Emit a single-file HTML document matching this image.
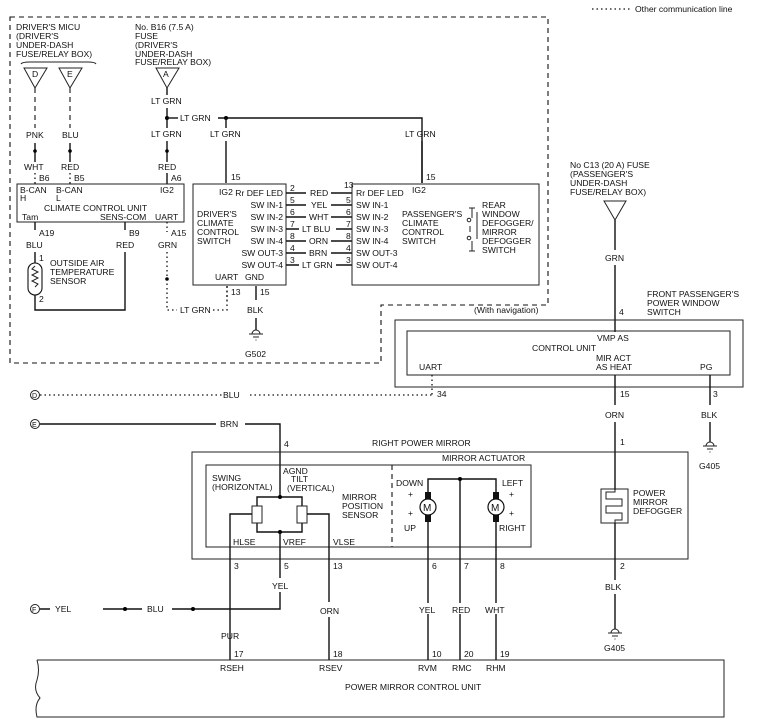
<!DOCTYPE html>
<html><head><meta charset="utf-8"><style>
body{margin:0;background:#fff}
svg{display:block}
text{font-family:"Liberation Sans",sans-serif;font-size:8.6px;fill:#111}
.w{stroke:#111;stroke-width:1.4;fill:none}
.t{stroke:#222;stroke-width:1;fill:none}
.d{stroke:#111;stroke-width:1.1;fill:none;stroke-dasharray:5,4}
.o{stroke:#111;stroke-width:1.3;fill:none;stroke-dasharray:1.5,3}
</style></head><body>
<svg width="759" height="724" viewBox="0 0 759 724" xmlns="http://www.w3.org/2000/svg">
<line x1="592" y1="9" x2="632" y2="9" class="o"/>
<text x="635" y="12">Other communication line</text>
<path d="M10,17 H548 V305 H381 V363 H10 Z" class="d"/>
<text x="16" y="30">DRIVER'S MICU</text><text x="16" y="39">(DRIVER'S</text><text x="16" y="48">UNDER-DASH</text><text x="16" y="57">FUSE/RELAY BOX)</text>
<path d="M21,64 Q22,62 30,62 H88 Q95,62 96,64" class="t"/>
<text x="135" y="30">No. B16 (7.5 A)</text><text x="135" y="39">FUSE</text><text x="135" y="48">(DRIVER'S</text><text x="135" y="57">UNDER-DASH</text><text x="135" y="65">FUSE/RELAY BOX)</text>
<path d="M24,68 H47 L35,88 Z" class="t"/><text x="32" y="77">D</text>
<path d="M59,68 H82 L70,88 Z" class="t"/><text x="67" y="77">E</text>
<path d="M156,68 H179 L167,88 Z" class="t"/><text x="163" y="77">A</text>
<line x1="35" y1="88" x2="35" y2="128" class="d"/><line x1="70" y1="88" x2="70" y2="128" class="d"/>
<text x="26" y="138">PNK</text><text x="62" y="138">BLU</text>
<line x1="35" y1="143" x2="35" y2="162" class="w"/><circle cx="35" cy="151" r="1.8"/>
<line x1="70" y1="143" x2="70" y2="162" class="w"/><circle cx="70" cy="151" r="1.8"/>
<text x="24" y="170">WHT</text><text x="61" y="170">RED</text>
<line x1="35" y1="173" x2="35" y2="184" class="o"/><line x1="70" y1="173" x2="70" y2="184" class="o"/>
<text x="39" y="181">B6</text><text x="74" y="181">B5</text>
<line x1="167" y1="88" x2="167" y2="95" class="w"/>
<text x="151" y="104">LT GRN</text>
<line x1="167" y1="108" x2="167" y2="128" class="w"/><circle cx="167" cy="118" r="2"/>
<line x1="167" y1="118" x2="178" y2="118" class="w"/><text x="180" y="121">LT GRN</text>
<path d="M218,118 H422 V183" class="w"/><circle cx="226" cy="118" r="2"/>
<line x1="226" y1="118" x2="226" y2="128" class="w"/>
<text x="151" y="137">LT GRN</text><text x="210" y="137">LT GRN</text><text x="405" y="137">LT GRN</text>
<line x1="167" y1="141" x2="167" y2="162" class="w"/><circle cx="167" cy="151" r="1.8"/>
<text x="158" y="170">RED</text>
<line x1="167" y1="173" x2="167" y2="184" class="w"/><text x="171" y="181">A6</text>
<line x1="226" y1="141" x2="226" y2="183" class="w"/><text x="231" y="180">15</text>
<line x1="422" y1="141" x2="422" y2="183" class="w"/><text x="426" y="180">15</text>
<rect x="17" y="184" width="167" height="38" class="t"/>
<text x="20" y="193">B-CAN</text><text x="20" y="201">H</text><text x="56" y="193">B-CAN</text><text x="56" y="201">L</text>
<text x="160" y="193">IG2</text>
<text x="44" y="211">CLIMATE CONTROL UNIT</text>
<text x="22" y="220">Tam</text><text x="100" y="220">SENS-COM</text><text x="155" y="220">UART</text>
<line x1="35" y1="222" x2="35" y2="230" class="w"/><text x="39" y="236">A19</text>
<line x1="125" y1="222" x2="125" y2="230" class="w"/><text x="129" y="236">B9</text>
<line x1="167" y1="222" x2="167" y2="232" class="o"/><text x="171" y="236">A15</text>
<text x="26" y="248">BLU</text><text x="116" y="248">RED</text><text x="158" y="248">GRN</text>
<path d="M35,252 V310 H125 V252" class="w"/>
<rect x="28" y="263" width="14" height="32" rx="7" fill="#fff" stroke="#111" stroke-width="1.1"/>
<path d="M35,266 l-3,3 l6,3 l-6,3 l6,3 l-6,3 l6,3 l-3,3" class="t"/>
<text x="39" y="261">1</text><text x="39" y="302">2</text>
<text x="50" y="266">OUTSIDE AIR</text><text x="50" y="275">TEMPERATURE</text><text x="50" y="284">SENSOR</text>
<path d="M167,252 V310 H177" class="o"/><circle cx="167" cy="279" r="1.8"/>
<text x="180" y="313">LT GRN</text>
<path d="M213,310 H227 V286" class="o"/>
<rect x="193" y="184" width="93" height="101" class="t"/>
<text x="219" y="195">IG2</text>
<g text-anchor="end">
<text x="283" y="196">Rr DEF LED</text><text x="283" y="208">SW IN-1</text><text x="283" y="220">SW IN-2</text><text x="283" y="232">SW IN-3</text><text x="283" y="244">SW IN-4</text><text x="283" y="256">SW OUT-3</text><text x="283" y="268">SW OUT-4</text>
</g>
<text x="197" y="217">DRIVER'S</text><text x="197" y="226">CLIMATE</text><text x="197" y="235">CONTROL</text><text x="197" y="244">SWITCH</text>
<text x="215" y="280">UART</text><text x="245" y="280">GND</text>
<line x1="227" y1="286" x2="227" y2="300" class="o"/><text x="231" y="295">13</text>
<line x1="256" y1="286" x2="256" y2="300" class="w"/><text x="260" y="295">15</text>
<text x="247" y="313">BLK</text>
<line x1="256" y1="318" x2="256" y2="330" class="w"/>
<path d="M252,334 a4,4 0 0 1 8,0 Z M249,334 H263 M253,337 H259 M255.5,340 H256.5" class="t"/>
<text x="245" y="357">G502</text>
<g class="w">
<path d="M286,193 h20 M331,193 h21"/><path d="M286,205 h20 M331,205 h21"/><path d="M286,217 h20 M331,217 h21"/>
<path d="M286,229 h13 M336,229 h16"/><path d="M286,241 h20 M331,241 h21"/><path d="M286,253 h20 M331,253 h21"/><path d="M286,265 h13 M336,265 h16"/>
</g>
<text x="290" y="191">2</text><text x="290" y="203">5</text><text x="290" y="215">6</text><text x="290" y="227">7</text><text x="290" y="239">8</text><text x="290" y="251">4</text><text x="290" y="263">3</text>
<text x="344" y="188">13</text><text x="346" y="203">5</text><text x="346" y="215">6</text><text x="346" y="227">7</text><text x="346" y="239">8</text><text x="346" y="251">4</text><text x="346" y="263">3</text>
<text x="310" y="196">RED</text><text x="311" y="208">YEL</text><text x="309" y="220">WHT</text><text x="302" y="232">LT BLU</text><text x="309" y="244">ORN</text><text x="309" y="256">BRN</text><text x="302" y="268">LT GRN</text>
<rect x="352" y="184" width="187" height="101" class="t"/>
<text x="356" y="196">Rr DEF LED</text><text x="412" y="193">IG2</text>
<text x="356" y="208">SW IN-1</text><text x="356" y="220">SW IN-2</text><text x="356" y="232">SW IN-3</text><text x="356" y="244">SW IN-4</text><text x="356" y="256">SW OUT-3</text><text x="356" y="268">SW OUT-4</text>
<text x="402" y="217">PASSENGER'S</text><text x="402" y="226">CLIMATE</text><text x="402" y="235">CONTROL</text><text x="402" y="244">SWITCH</text>
<path d="M469,208 h6 M472,208 v10 M472,241 v10 M469,251 h6" class="t"/>
<circle cx="469" cy="220" r="1.8" class="t"/><circle cx="469" cy="238" r="1.8" class="t"/>
<path d="M470,226 v6 M477,212 v27" class="t"/>
<text x="482" y="208">REAR</text><text x="482" y="217">WINDOW</text><text x="482" y="226">DEFOGGER/</text><text x="482" y="235">MIRROR</text><text x="482" y="244">DEFOGGER</text><text x="482" y="253">SWITCH</text>
<text x="570" y="168">No  C13 (20 A) FUSE</text><text x="570" y="177">(PASSENGER'S</text><text x="570" y="186">UNDER-DASH</text><text x="570" y="195">FUSE/RELAY BOX)</text>
<path d="M604,201 H626 L615,220 Z" class="t"/>
<line x1="615" y1="220" x2="615" y2="250" class="w"/><text x="605" y="261">GRN</text>
<line x1="615" y1="265" x2="615" y2="332" class="w"/><text x="619" y="315">4</text>
<text x="647" y="297">FRONT PASSENGER'S</text><text x="647" y="306">POWER WINDOW</text><text x="647" y="315">SWITCH</text>
<text x="474" y="313">(With navigation)</text>
<rect x="395" y="320" width="348" height="67" class="t"/>
<rect x="407" y="331" width="323" height="44" class="t"/>
<text x="597" y="341">VMP AS</text><text x="532" y="351">CONTROL UNIT</text><text x="596" y="361">MIR ACT</text><text x="596" y="370">AS HEAT</text>
<text x="419" y="370">UART</text><text x="700" y="370">PG</text>
<line x1="432" y1="375" x2="432" y2="395" class="o"/><text x="437" y="397">34</text>
<line x1="615" y1="375" x2="615" y2="405" class="w"/><text x="620" y="397">15</text>
<line x1="710" y1="375" x2="710" y2="405" class="w"/><text x="713" y="397">3</text>
<text x="605" y="418">ORN</text><text x="701" y="418">BLK</text>
<line x1="615" y1="422" x2="615" y2="490" class="w"/><text x="620" y="445">1</text>
<line x1="710" y1="422" x2="710" y2="442" class="w"/>
<path d="M706,446 a4,4 0 0 1 8,0 Z M703,446 H717 M707,449 H713 M709.5,452 H710.5" class="t"/>
<text x="699" y="469">G405</text>
<circle cx="35" cy="395" r="4.5" class="t"/><text x="32" y="398" style="font-size:7px">D</text>
<path d="M40,395 H222 M250,395 H432" class="o"/><text x="223" y="398">BLU</text>
<circle cx="35" cy="424" r="4.5" class="t"/><text x="32" y="427" style="font-size:7px">E</text>
<path d="M40,424 H216 M245,424 H280 V497" class="w"/><text x="220" y="427">BRN</text>
<text x="284" y="447">4</text>
<circle cx="35" cy="609" r="4.5" class="t"/><text x="32" y="612" style="font-size:7px">F</text>
<path d="M40,609 H50 M103,609 H142 M172,609 H280 V592" class="w"/>
<text x="55" y="612">YEL</text><text x="147" y="612">BLU</text>
<circle cx="125" cy="609" r="2"/><circle cx="193" cy="609" r="2"/>
<text x="372" y="446">RIGHT POWER MIRROR</text>
<rect x="192" y="452" width="496" height="107" class="t"/>
<text x="442" y="461">MIRROR ACTUATOR</text>
<rect x="206" y="465" width="325" height="82" class="t"/>
<line x1="392" y1="465" x2="392" y2="547" class="d"/>
<text x="212" y="481">SWING</text><text x="212" y="490">(HORIZONTAL)</text>
<text x="283" y="474">AGND</text><text x="291" y="482">TILT</text><text x="287" y="491">(VERTICAL)</text>
<text x="342" y="500">MIRROR</text><text x="342" y="509">POSITION</text><text x="342" y="518">SENSOR</text>
<path d="M257,506 V497 H302 V506 M257,523 V532 H302 V523" class="w"/>
<circle cx="280" cy="497" r="2"/><circle cx="280" cy="532" r="2"/>
<rect x="252" y="506" width="10" height="17" class="t"/><rect x="297" y="506" width="10" height="17" class="t"/>
<path d="M252,514 H230 V660 M307,514 H329 V602 M329,617 V660 M280,532 V578" class="w"/>
<text x="233" y="545">HLSE</text><text x="283" y="545">VREF</text><text x="333" y="545">VLSE</text>
<text x="234" y="569">3</text><text x="284" y="569">5</text><text x="333" y="569">13</text>
<text x="272" y="589">YEL</text><text x="320" y="614">ORN</text>
<text x="221" y="639">PUR</text>
<path d="M428,507 V479 H496 V507 M428,507 V660 M496,507 V660 M460,479 V660" class="w"/>
<circle cx="460" cy="479" r="2"/>
<rect x="425" y="492" width="6" height="30" fill="#111"/><rect x="493" y="492" width="6" height="30" fill="#111"/>
<circle cx="428" cy="507" r="8" fill="#fff" stroke="#111" stroke-width="1.2"/><text x="423" y="511" style="font-size:10px">M</text>
<circle cx="496" cy="507" r="8" fill="#fff" stroke="#111" stroke-width="1.2"/><text x="491" y="511" style="font-size:10px">M</text>
<text x="396" y="486">DOWN</text><text x="408" y="497">+</text><text x="408" y="516">+</text><text x="404" y="531">UP</text>
<text x="502" y="486">LEFT</text><text x="509" y="497">+</text><text x="509" y="516">+</text><text x="499" y="531">RIGHT</text>
<text x="432" y="569">6</text><text x="464" y="569">7</text><text x="500" y="569">8</text>
<rect x="420" y="603" width="90" height="11" fill="#fff"/>
<text x="419" y="613">YEL</text><text x="452" y="613">RED</text><text x="485" y="613">WHT</text>
<rect x="601" y="489" width="27" height="34" class="t"/>
<path d="M615,489 V492 H606 V499 H622 V506 H606 V513 H622 V520 H615 V523" class="t"/>
<text x="633" y="496">POWER</text><text x="633" y="505">MIRROR</text><text x="633" y="514">DEFOGGER</text>
<line x1="615" y1="523" x2="615" y2="580" class="w"/><text x="620" y="569">2</text>
<text x="605" y="590">BLK</text>
<line x1="615" y1="594" x2="615" y2="629" class="w"/>
<path d="M611,633 a4,4 0 0 1 8,0 Z M608,633 H622 M612,636 H618 M614.5,639 H615.5" class="t"/>
<text x="604" y="651">G405</text>
<path d="M37,660 H724 V717 H37 Q34,705 40,698 Q33,690 37,680 Q40,670 37,660" class="t"/>
<text x="234" y="657">17</text><text x="333" y="657">18</text><text x="432" y="657">10</text><text x="464" y="657">20</text><text x="500" y="657">19</text>
<text x="220" y="671">RSEH</text><text x="319" y="671">RSEV</text><text x="418" y="671">RVM</text><text x="452" y="671">RMC</text><text x="486" y="671">RHM</text>
<text x="345" y="690">POWER MIRROR CONTROL UNIT</text>
</svg>
</body></html>
